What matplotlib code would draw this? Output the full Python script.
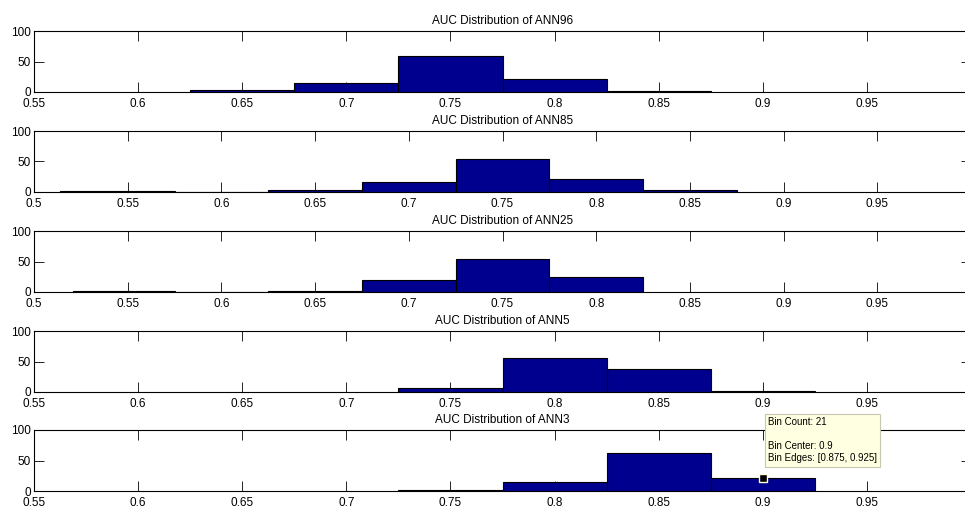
import matplotlib
matplotlib.use("Agg")
import matplotlib.pyplot as plt

plt.rcParams["font.family"] = ["Liberation Sans", "DejaVu Sans"]
plt.rcParams["font.size"] = 8.5

titles = ["AUC Distribution of ANN96", "AUC Distribution of ANN85",
          "AUC Distribution of ANN25", "AUC Distribution of ANN5",
          "AUC Distribution of ANN3"]

# bin edges and counts
edges96 = [0.625, 0.675, 0.725, 0.775, 0.825, 0.875]
counts96 = [4, 14, 59, 22, 1]
edges85 = [0.514, 0.575, 0.625, 0.675, 0.725, 0.775, 0.825, 0.875]
counts85 = [1, 0, 4, 17, 54, 21, 3]
edges25 = [0.521, 0.575, 0.625, 0.675, 0.725, 0.775, 0.825]
counts25 = [1, 0, 2, 19, 54, 24]
edges5 = [0.725, 0.775, 0.825, 0.875, 0.925]
counts5 = [6, 55, 37, 2]
edges3 = [0.725, 0.775, 0.825, 0.875, 0.925]
counts3 = [1, 15, 63, 21]

xmins = [0.55, 0.5, 0.5, 0.55, 0.55]
ticks_a = ["0.55", "0.6", "0.65", "0.7", "0.75", "0.8", "0.85", "0.9", "0.95"]
ticks_b = ["0.5"] + ticks_a

all_edges = [edges96, edges85, edges25, edges5, edges3]
all_counts = [counts96, counts85, counts25, counts5, counts3]

navy = "#00008f"
W, H = 965, 507
fig = plt.figure(figsize=(W / 100, H / 100), dpi=100)

tops = [31, 131, 231, 331, 430]
axh = 61
left_px, right_px = 34, 971

axes = []
for i in range(5):
    ax = fig.add_axes([left_px / W, 1 - (tops[i] + axh) / H,
                       (right_px - left_px) / W, axh / H])
    e, c = all_edges[i], all_counts[i]
    ax.hist(e[:-1], bins=e, weights=c, color=navy, edgecolor="black", linewidth=0.8)
    ax.set_axisbelow(True)
    ax.set_xlim(xmins[i], 1.0)
    ax.set_ylim(0, 100)
    labels = ticks_b if xmins[i] == 0.5 else ticks_a
    ax.set_xticks([float(t) for t in labels])
    ax.set_xticklabels(labels)
    ax.set_yticks([0, 50, 100])
    ax.tick_params(direction="in", length=7, width=0.6, top=True, right=True,
                   colors="black", labelsize=8.5)
    ax.tick_params(axis="x", pad=4)
    ax.tick_params(axis="y", pad=2)
    for s in ax.spines.values():
        s.set_linewidth(0.8)
    ax.set_title(titles[i], fontsize=8.5, pad=5)
    axes.append(ax)

# data tip on the last panel
ax5 = axes[4]
ax5.plot(0.9, 21, "s", color="black", mec="#ffffe1", mew=1, ms=6, clip_on=False, zorder=5)
ax5.text(0.9025, 121, "Bin Count: 21\n\nBin Center: 0.9\nBin Edges: [0.875, 0.925]",
         fontsize=7, va="top", ha="left", linespacing=1.25, clip_on=False, zorder=6,
         bbox=dict(boxstyle="square,pad=0.35", fc="#ffffe1", ec="#c8c8b0", lw=0.8))

fig.savefig("out.png", dpi=100)
